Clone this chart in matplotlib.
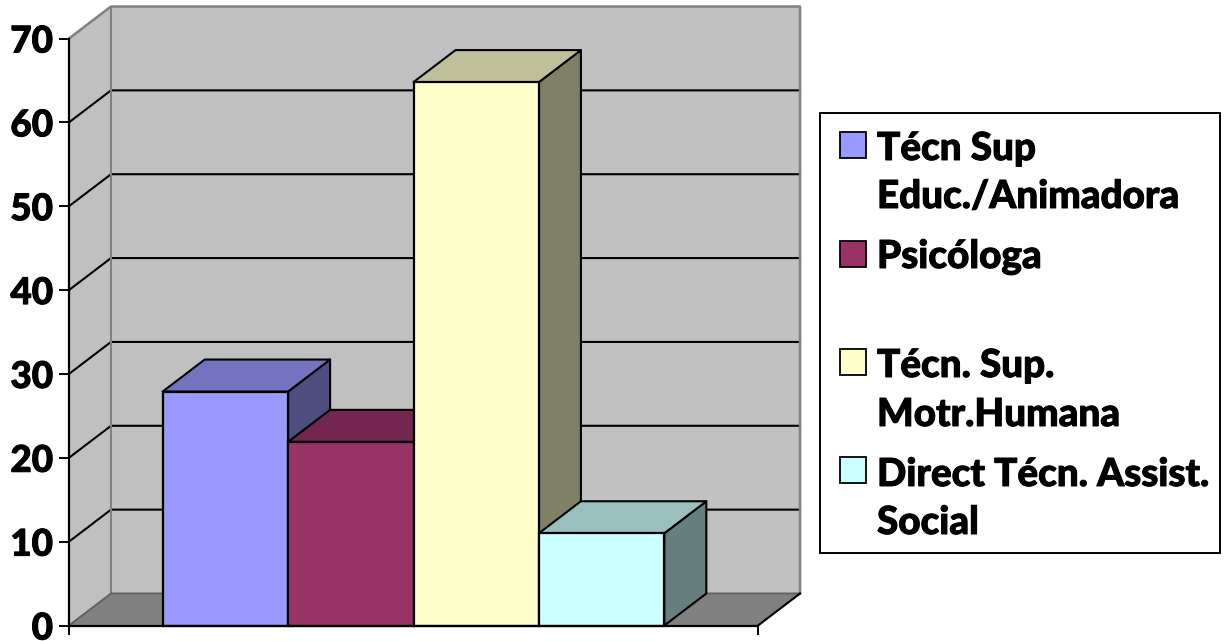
import matplotlib
matplotlib.use("Agg")
import matplotlib.pyplot as plt
from matplotlib.patches import Rectangle
from matplotlib import patheffects

categorias = ["Técn Sup\nEduc./Animadora", "Psicóloga", "Técn. Sup.\nMotr.Humana", "Direct Técn. Assist.\nSocial"]
valores = [27.9, 21.9, 64.8, 11.0]
cores = ["#9999FF", "#993366", "#FFFFCC", "#CCFFFF"]
cores_topo = ["#7373BF", "#732650", "#BFBF99", "#99BFBF"]
cores_lado = ["#4D4D80", "#4D1A33", "#808066", "#668080"]
marcas_y = [0, 10, 20, 30, 40, 50, 60, 70]

W, H = 1227, 641
plt.rcParams["font.family"] = ["Lato", "DejaVu Sans"]
plt.rcParams["font.weight"] = "bold"
reforco = [patheffects.withStroke(linewidth=0.7, foreground="black")]

fig = plt.figure(figsize=(W / 100, H / 100), dpi=100)
# eixos = plano da frente do grafico
ax = fig.add_axes([69 / W, (H - 625.5) / H, 689 / W, 587 / H])
ax.set_xlim(-1.247, 4.247)
ax.set_ylim(0, 70)

# profundidade em unidades de dados
px_x = 689 / (4.247 + 1.247)
px_y = 587 / 70
dx = 42 / px_x
dy = 32 / px_y
x0, x1 = ax.get_xlim()
y1 = marcas_y[-1]
cinza = "#808080"

# paredes e chao
ax.fill([x0 + dx, x1 + dx, x1 + dx, x0 + dx], [dy, dy, y1 + dy, y1 + dy], color="#C0C0C0", zorder=1, clip_on=False)
ax.fill([x0, x0 + dx, x0 + dx, x0], [0, dy, y1 + dy, y1], color="#C0C0C0", zorder=1, clip_on=False)
ax.fill([x0, x1, x1 + dx, x0 + dx], [0, 0, dy, dy], color=cinza, zorder=1, clip_on=False)

for m in marcas_y[1:-1]:
    ax.plot([x0, x0 + dx, x1 + dx], [m, m + dy, m + dy], color="black", lw=1.5, zorder=2, clip_on=False)

ax.plot([x0, x0 + dx, x1 + dx, x1 + dx], [y1, y1 + dy, y1 + dy, dy], color=cinza, lw=1.8, zorder=2, clip_on=False)
ax.plot([x0 + dx, x0 + dx], [dy, y1 + dy], color=cinza, lw=1.5, zorder=2, clip_on=False)
ax.plot([x0, x0 + dx, x1 + dx], [0, dy, dy], color="#606060", lw=1.3, zorder=2, clip_on=False)
ax.plot([x1, x1 + dx], [0, dy], color="black", lw=1.5, zorder=2, clip_on=False)

# barras, da esquerda para a direita
for i in range(len(valores)):
    v = valores[i]
    z = 3 + i
    e, d = i - 0.5, i + 0.5
    ax.fill([d, d + dx, d + dx, d], [0, dy, v + dy, v], facecolor=cores_lado[i], edgecolor="black",
            lw=1.5, joinstyle="round", zorder=z, clip_on=False)
    ax.fill([e, d, d + dx, e + dx], [v, v, v + dy, v + dy], facecolor=cores_topo[i], edgecolor="black",
            lw=1.5, joinstyle="round", zorder=z, clip_on=False)
    ax.bar(i, v, width=1, color=cores[i], edgecolor="black", lw=1.6, zorder=z, clip_on=False)

for lado in ["top", "right"]:
    ax.spines[lado].set_visible(False)
for lado in ["left", "bottom"]:
    ax.spines[lado].set_linewidth(1.6)
    ax.spines[lado].set_zorder(20)

ax.patch.set_visible(False)
ax.set_yticks(marcas_y)
ax.set_xticks([x0, x1])
ax.set_xticklabels([])
ax.tick_params(axis="y", length=7, width=1.4, pad=4.5, labelsize=26.5)
ax.tick_params(axis="x", length=6.5, width=1.4)
for t in ax.get_yticklabels():
    t.set_fontweight("black")
    t.set_path_effects(reforco)

# legenda em pixels da figura
pix = fig.transFigure
caixa = Rectangle((820 / W, (H - 552.5) / H), 400 / W, 439.5 / H, transform=pix, facecolor="white",
                  edgecolor="black", lw=1.4)
fig.add_artist(caixa)

linhas_base = [[160, 208], [268], [377, 426], [486, 534]]
topo_marca = [132, 241, 349, 457]
for i in range(len(categorias)):
    fig.add_artist(Rectangle((840 / W, (H - topo_marca[i] - 26) / H), 26 / W, 26 / H, transform=pix,
                             facecolor=cores[i], edgecolor="black", lw=1.3))
    partes = categorias[i].split("\n")
    for j in range(len(partes)):
        fig.text(877 / W, (H - linhas_base[i][j]) / H, partes[j], fontsize=27.8, fontweight="black",
                 color="black", va="baseline", ha="left", path_effects=reforco)

fig.savefig("out.png", dpi=100, facecolor="white")
